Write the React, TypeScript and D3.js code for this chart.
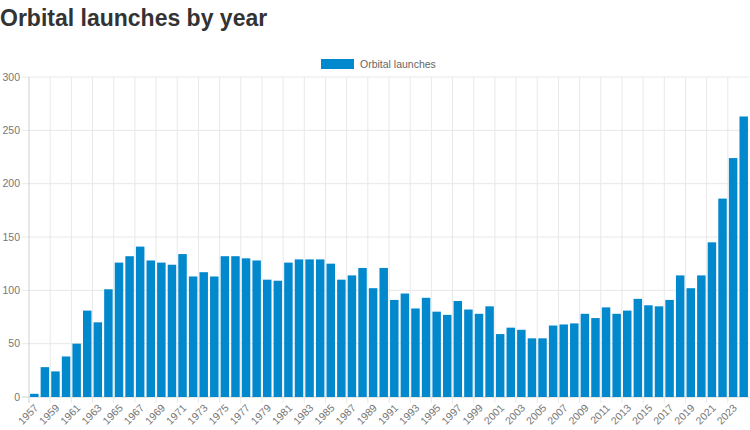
import React, { useRef, useEffect } from 'react';
import * as d3 from 'd3';

const years = d3.range(1957, 2025).map(String);

const launches = [
  3, 28, 24, 38, 50, 81, 70, 101, 126, 132, 141, 128, 126, 124, 134, 113, 117,
  113, 132, 132, 130, 128, 110, 109, 126, 129, 129, 129, 125, 110, 114, 121,
  102, 121, 91, 97, 83, 93, 80, 77, 90, 82, 78, 85, 59, 65, 63, 55, 55, 67, 68,
  69, 78, 74, 84, 78, 81, 92, 86, 85, 91, 114, 102, 114, 145, 186, 224, 263,
];

const yTicks = [0, 50, 100, 150, 200, 250, 300];

const title = 'Orbital launches by year';
const seriesName = 'Orbital launches';

const OrbitalChart = () => {
  const ref = useRef<SVGSVGElement | null>(null);

  const width = 750;
  const height = 430;

  useEffect(() => {
    if (!ref.current) return;

    const margin = { top: 77, right: 1, bottom: 33, left: 29 };
    const font = '"Liberation Sans", Arial, Helvetica, sans-serif';

    const x = d3
      .scaleBand<string>()
      .domain(years)
      .range([margin.left, width - margin.right])
      .padding(0);

    const y = d3
      .scaleLinear()
      .domain([0, 300])
      .range([height - margin.bottom, margin.top]);

    const svg = d3.select(ref.current);
    svg.selectAll('*').remove();

    svg
      .append('text')
      .attr('x', 0)
      .attr('y', 26)
      .attr('font-family', font)
      .attr('font-weight', 700)
      .attr('font-size', 23)
      .attr('fill', '#333')
      .text(title);

    // legend
    const lg = svg.append('g').attr('transform', 'translate(321,59)');
    lg.append('rect')
      .attr('width', 33)
      .attr('height', 10)
      .attr('fill', '#0288cc');
    lg.append('text')
      .attr('x', 39)
      .attr('y', 9)
      .attr('font-family', font)
      .attr('font-size', 10.5)
      .attr('fill', '#666')
      .text(seriesName);

    const grid = svg.append('g');
    const y0 = y(0);

    // horizontal grid + y labels
    yTicks.forEach((t) => {
      grid
        .append('line')
        .attr('x1', margin.left - 7)
        .attr('x2', width - margin.right)
        .attr('y1', y(t))
        .attr('y2', y(t))
        .attr('stroke', t === 0 ? '#d0d0d0' : '#e8e8e8')
        .attr('stroke-width', 1);
      grid
        .append('text')
        .attr('x', 20)
        .attr('y', y(t))
        .attr('dy', '0.35em')
        .attr('text-anchor', 'end')
        .attr('font-family', font)
        .attr('font-size', 10.5)
        .attr('fill', '#777')
        .text(t);
    });

    // vertical grid + x labels (every other year)
    years.forEach((yr, i) => {
      if (i % 2 !== 0) return;
      const gx = x(yr) || 0;
      grid
        .append('line')
        .attr('x1', gx)
        .attr('x2', gx)
        .attr('y1', margin.top)
        .attr('y2', y0 + 6)
        .attr('stroke', i === 0 ? '#d0d0d0' : '#e8e8e8')
        .attr('stroke-width', 1);
      const cx = gx + x.bandwidth() / 2 + 2;
      grid
        .append('text')
        .attr('transform', `translate(${cx},${y0 + 9}) rotate(-45)`)
        .attr('dy', '0.35em')
        .attr('text-anchor', 'end')
        .attr('font-family', font)
        .attr('font-size', 10.5)
        .attr('fill', '#777')
        .text(yr);
    });

    // bars
    const bw = x.bandwidth() * 0.8;
    svg
      .append('g')
      .selectAll('rect')
      .data(launches)
      .join('rect')
      .attr('x', (_, i) => (x(years[i]) || 0) + (x.bandwidth() - bw) / 2)
      .attr('y', (d) => y(d))
      .attr('width', bw)
      .attr('height', (d) => y0 - y(d))
      .attr('fill', '#0288cc');
  });

  return (
    <svg
      ref={ref}
      width={width}
      height={height}
      viewBox={`0 0 ${width} ${height}`}
      style={{ display: 'block', background: '#fff' }}
    />
  );
};

const App = () => (
  <>
    <style>{'body{margin:0}'}</style>
    <OrbitalChart />
  </>
);

export default App;
